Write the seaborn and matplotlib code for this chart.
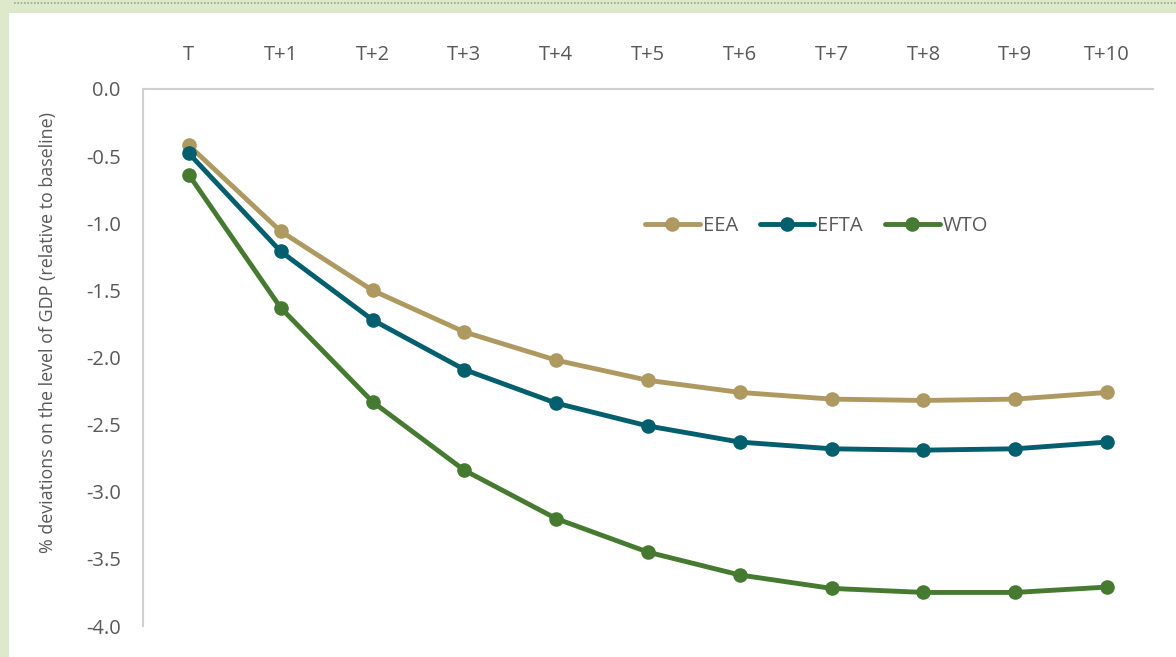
import matplotlib
matplotlib.use("Agg")
import matplotlib.pyplot as plt
import seaborn as sns
import pandas as pd
from matplotlib.lines import Line2D
from matplotlib.patches import Rectangle

periods = ["T", "T+1", "T+2", "T+3", "T+4", "T+5", "T+6", "T+7", "T+8", "T+9", "T+10"]
eea = [-0.42, -1.06, -1.50, -1.81, -2.02, -2.17, -2.26, -2.31, -2.32, -2.31, -2.26]
efta = [-0.48, -1.21, -1.72, -2.09, -2.34, -2.51, -2.63, -2.68, -2.69, -2.68, -2.63]
wto = [-0.64, -1.63, -2.33, -2.84, -3.20, -3.45, -3.62, -3.72, -3.75, -3.75, -3.71]
series_names = ["EEA", "EFTA", "WTO"]
yticks = [0.0, -0.5, -1.0, -1.5, -2.0, -2.5, -3.0, -3.5, -4.0]
ylabel = "% deviations on the level of GDP (relative to baseline)"

colors = {"EEA": "#AE9961", "EFTA": "#035E6D", "WTO": "#467A31"}

rows = []
for name, vals in zip(series_names, [eea, efta, wto]):
    for i, (p, v) in enumerate(zip(periods, vals)):
        rows.append({"pos": i, "period": p, "value": v, "scenario": name})
df = pd.DataFrame(rows)

sns.set_theme(style="white")
plt.rcParams['font.family'] = ['Open Sans', 'DejaVu Sans']

fig = plt.figure(figsize=(11.76, 6.57), dpi=100, facecolor="#DEE8CA")
# white panel
fig.add_artist(Rectangle((9 / 1176, 0), 1 - 9 / 1176, 1 - 13 / 657,
                         transform=fig.transFigure, facecolor="white",
                         edgecolor="none", zorder=0))
fig.add_artist(Line2D([0.012, 1], [1 - 2.5 / 657, 1 - 2.5 / 657],
                      transform=fig.transFigure, color="#9aa58a",
                      linestyle=(0, (1, 1)), linewidth=1.2))

ax = fig.add_axes([143 / 1176, 1 - 626 / 657, (1153 - 143) / 1176, (626 - 89) / 657])
ax.set_facecolor("none")

sns.lineplot(data=df, x="pos", y="value", hue="scenario", palette=colors,
             marker="o", markersize=10.5, markeredgewidth=0, linewidth=3.5,
             ax=ax, legend=False, zorder=3)

ax.set_xlim(-0.5, 10.5)
ax.set_ylim(-4.0, 0.0)
ax.set_xticks(range(len(periods)))
ax.set_xticklabels(periods)
ax.set_yticks(yticks)
ax.set_yticklabels([f"{t:.1f}" for t in yticks])
ax.xaxis.tick_top()
ax.tick_params(axis="x", length=0, pad=17, labelsize=14.5, colors="#595959")
ax.tick_params(axis="y", length=0, pad=16, labelsize=14.5, colors="#595959")
ax.set_xlabel("")
ax.set_ylabel(ylabel, fontsize=12.9, color="#595959")
ax.yaxis.set_label_coords(-0.085, 0.546)

for s in ["right", "bottom"]:
    ax.spines[s].set_visible(False)
for s in ["left", "top"]:
    ax.spines[s].set_color("#D0D0D0")
    ax.spines[s].set_linewidth(1.5)

handles = [Line2D([0], [0], color=colors[n], marker="o", markersize=10.5,
                  markeredgewidth=0, linewidth=3.5, solid_capstyle="round")
           for n in series_names]
leg = ax.legend(handles, series_names, loc="center", bbox_to_anchor=(0.667, 0.745),
                ncol=3, frameon=False, fontsize=14.5, handlelength=2.7,
                handletextpad=0.15, columnspacing=1.1)
for t in leg.get_texts():
    t.set_color("#595959")

fig.savefig("out.png", dpi=100, facecolor=fig.get_facecolor())
